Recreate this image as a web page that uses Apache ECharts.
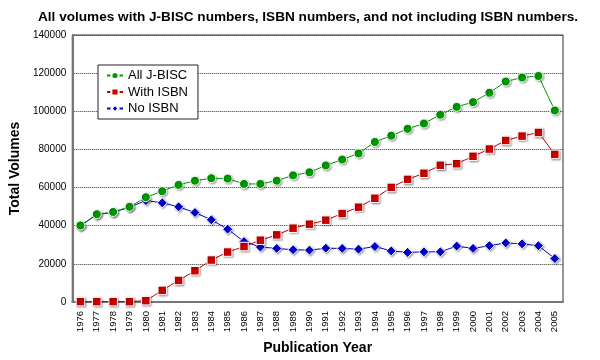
<!DOCTYPE html>
<html><head><meta charset="utf-8">
<script src="https://cdn.jsdelivr.net/npm/echarts@6/dist/echarts.min.js"></script>
<style>html,body{margin:0;padding:0;background:#fff}#c{width:600px;height:360px}</style>
</head><body><div id="c"></div>
<script>
const years = ['1976','1977','1978','1979','1980','1981','1982','1983','1984','1985','1986','1987','1988','1989','1990','1991','1992','1993','1994','1995','1996','1997','1998','1999','2000','2001','2002','2003','2004','2005'];
const allJBISC = [40100,46000,47200,49900,54900,58100,61400,63600,64900,64700,61900,61900,63600,66400,68000,71600,74700,77900,83900,87200,90800,93600,98200,102300,104800,109700,115600,117700,118500,100400];
const withISBN = [200,200,200,200,700,6100,11300,16400,22000,26200,29100,32400,35200,38700,40800,42900,46400,49700,54400,60100,64300,67500,71700,72500,76400,80200,84700,87000,88900,77400];
const noISBN = [39900,45800,47000,49700,53200,52000,49900,46900,43100,38200,31700,28800,28100,27400,27200,28200,28100,27700,29100,26800,26000,26300,26300,29300,28100,29500,31000,30500,29500,22800];
const yTicks = [0,20000,40000,60000,80000,100000,120000,140000];

const font = 'Liberation Sans, Arial, Helvetica, sans-serif';
const mk = {borderColor:'#fff', borderWidth:1, shadowBlur:2, shadowColor:'rgba(0,0,0,0.35)', shadowOffsetX:1, shadowOffsetY:1};
const chart = echarts.init(document.getElementById('c'), null, {renderer:'canvas'});
chart.setOption({
  animation:false,
  backgroundColor:'#fff',
  title:{text:'All volumes with J-BISC numbers, ISBN numbers, and not including ISBN numbers.', left:303, textAlign:'center', top:5,
    textStyle:{fontFamily:font, fontSize:13.6, fontWeight:'bold', color:'#000'}},
  grid:{left:68, right:37, top:35, bottom:57, show:true, borderColor:'#333', borderWidth:1},
  legend:{orient:'vertical', left:98, top:65, data:['All J-BISC','With ISBN','No ISBN'],
    backgroundColor:'#fff', borderColor:'#222', borderWidth:1, padding:[4,10,4,8],
    itemWidth:16, itemHeight:9, itemGap:3.5,
    textStyle:{fontFamily:font, fontSize:13, color:'#000'}},
  xAxis:{type:'category', data:years, boundaryGap:true,
    name:'Publication Year', nameLocation:'middle', nameGap:39,
    nameTextStyle:{fontFamily:font, fontSize:14, fontWeight:'bold', color:'#000'},
    axisLine:{lineStyle:{color:'#777', width:2}},
    axisTick:{inside:true, length:3, lineStyle:{color:'#555'}},
    axisLabel:{rotate:90, interval:0, fontFamily:font, fontSize:9.5, color:'#000', margin:9},
    splitLine:{show:false}},
  yAxis:{type:'value', min:0, max:140000, interval:20000,
    name:'Total Volumes', nameLocation:'middle', nameGap:48,
    nameTextStyle:{fontFamily:font, fontSize:14, fontWeight:'bold', color:'#000'},
    axisLine:{show:true, lineStyle:{color:'#777', width:2}},
    axisTick:{show:false},
    axisLabel:{fontFamily:font, fontSize:10, color:'#000', margin:6,
      formatter:v=>yTicks.includes(v)?String(v):''},
    splitLine:{lineStyle:{color:'#333', type:'dotted', width:1}}},
  series:[
    {name:'No ISBN', type:'line', data:noISBN, symbol:'diamond', symbolSize:10, color:'#0000cc',
      lineStyle:{width:1}, itemStyle:mk},
    {name:'With ISBN', type:'line', data:withISBN, symbol:'rect', symbolSize:8.5, color:'#cc0000',
      lineStyle:{width:1}, itemStyle:mk},
    {name:'All J-BISC', type:'line', data:allJBISC, symbol:'circle', symbolSize:9, color:'#009900',
      lineStyle:{width:1}, itemStyle:mk}
  ]
});
</script></body></html>
